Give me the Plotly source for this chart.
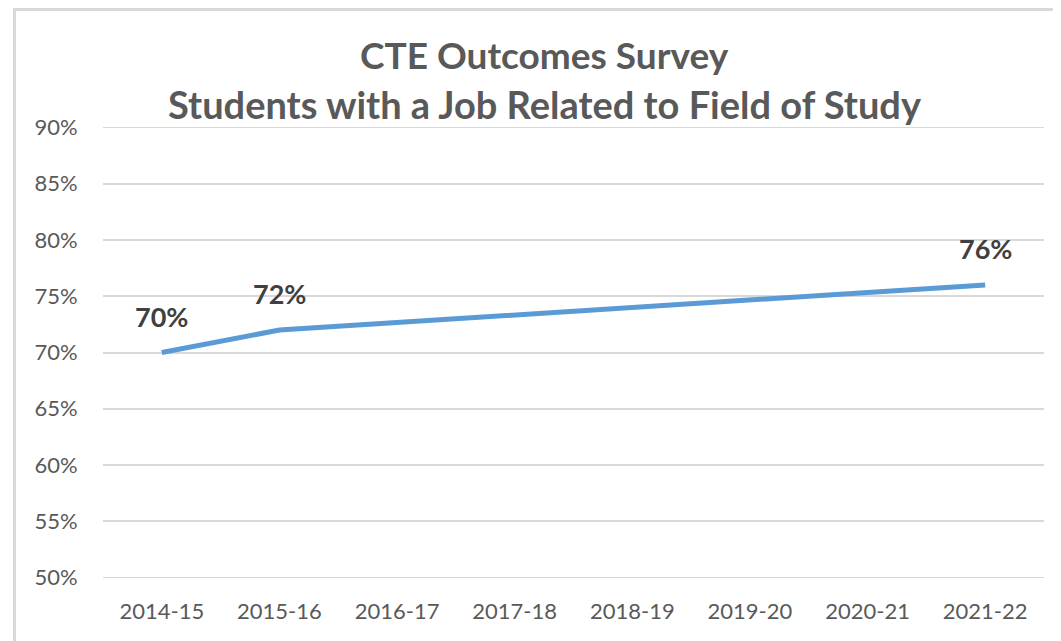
import plotly.graph_objects as go

years = ["2014-15", "2015-16", "2016-17", "2017-18", "2018-19", "2019-20", "2020-21", "2021-22"]
pct = [70, 72, None, None, None, None, None, 76]
label_years = ["2014-15", "2015-16", "2021-22"]
label_vals = [70, 72, 76]
y_ticks = [50, 55, 60, 65, 70, 75, 80, 85, 90]
y_tick_text = [f"{v}%" for v in y_ticks]
title_line1 = "CTE Outcomes Survey"
title_line2 = "Students with a Job Related to Field of Study"

# page body has an 8px default margin; work in page pixels and convert
OFF = 8
W, H = 1061 - OFF, 641 - OFF
ML, MR, MT, MB = 103 - OFF, 17, 127 - OFF, 63
PW = W - ML - MR
PH = H - MT - MB

def px_x(x):
    return (x - OFF - ML) / PW

def px_y(y):
    return (H - MB - (y - OFF)) / PH

FONT = "Lato, 'Open Sans', sans-serif"
GRID = "#D9D9D9"

fig = go.Figure()

# grid lines at the range edges (plotly skips them at exact boundaries)
for v in (y_ticks[0], y_ticks[-1]):
    fig.add_hline(y=v, line=dict(color=GRID, width=1.5), layer="below")

fig.add_trace(go.Scatter(
    x=years, y=pct, mode="lines", connectgaps=True,
    line=dict(color="#5B9BD5", width=5),
    hoverinfo="skip", showlegend=False,
))

for xv, yv in zip(label_years, label_vals):
    fig.add_annotation(
        x=xv, y=yv, xref="x", yref="y", text=f"<b>{yv}%</b>",
        showarrow=False, yshift=36,
        font=dict(family=FONT, size=27, color="#404040"),
    )

fig.add_annotation(
    x=px_x(544), y=px_y(55), xref="paper", yref="paper", text=f"<b>{title_line1}</b>",
    showarrow=False, xanchor="center", yanchor="middle",
    font=dict(family=FONT, size=37, color="#595959"),
)
fig.add_annotation(
    x=px_x(545), y=px_y(104), xref="paper", yref="paper", text=f"<b>{title_line2}</b>",
    showarrow=False, xanchor="center", yanchor="middle",
    font=dict(family=FONT, size=38, color="#595959"),
)

# outer chart border (left & top visible)
fig.add_shape(type="line", xref="paper", yref="paper",
              x0=px_x(14.5), x1=px_x(14.5), y0=px_y(9), y1=px_y(641),
              line=dict(color=GRID, width=3))
fig.add_shape(type="line", xref="paper", yref="paper",
              x0=px_x(13), x1=px_x(1061), y0=px_y(9.5), y1=px_y(9.5),
              line=dict(color=GRID, width=3))

fig.update_layout(
    width=W, height=H,
    margin=dict(l=ML, r=MR, t=MT, b=MB),
    paper_bgcolor="white", plot_bgcolor="white",
    font=dict(family=FONT, color="#595959"),
    xaxis=dict(
        type="category", categoryorder="array", categoryarray=years,
        range=[-0.5, len(years) - 0.5],
        showgrid=False, zeroline=False, showline=False,
        ticks="outside", ticklen=14, tickcolor="rgba(0,0,0,0)",
        tickfont=dict(size=22, color="#595959"),
    ),
    yaxis=dict(
        range=[49.97, 90.03], tickvals=y_ticks, ticktext=y_tick_text,
        showgrid=True, gridcolor=GRID, gridwidth=1.5,
        zeroline=False, showline=False,
        ticks="outside", ticklen=20, tickcolor="rgba(0,0,0,0)",
        tickfont=dict(size=22, color="#595959"),
    ),
)

fig.write_html("out.html")
